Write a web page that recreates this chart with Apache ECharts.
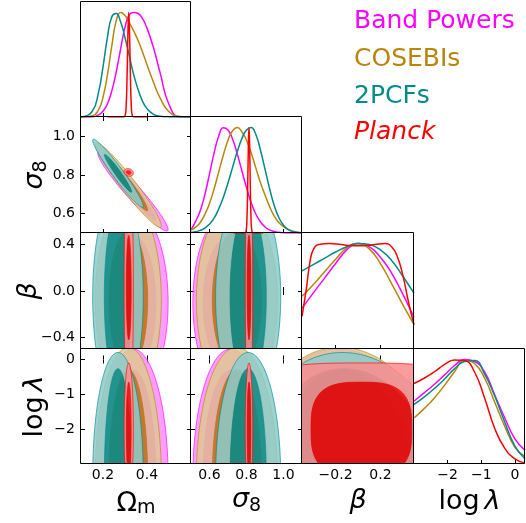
<!DOCTYPE html>
<html>
<head>
<meta charset="utf-8">
<script src="https://cdn.jsdelivr.net/npm/echarts@6/dist/echarts.min.js"></script>
<style>
  html, body { margin: 0; padding: 0; background: #fff; }
  #chart { width: 526px; height: 523px; }
</style>
</head>
<body>
<div id="chart"></div>
<script>
// datasets, in drawing order (Planck ends up on top)
const names = ['Band Powers', 'COSEBIs', '2PCFs', 'Planck'];
const colors = ['#ff00ff', '#b8860b', '#008b8b', '#ff0000'];

// parameters: Omega_m, sigma_8, beta, log lambda
const ranges = [[0.1, 0.6], [0.5, 1.1], [-0.5, 0.5], [-3, 0.3]];
const ticksX = [[0.2, 0.4], [0.6, 0.8, 1.0], [-0.2, 0.2], [-2, -1, 0]];
const ticksY = [null, [0.6, 0.8, 1.0], [-0.4, 0.0, 0.4], [-2, -1, 0]];
const decimals = [1, 1, 1, 0];

// 1D marginals, peak normalised to 1
const omX = [0.10, 0.15, 0.18, 0.20, 0.22, 0.24, 0.26, 0.28, 0.30, 0.32, 0.34, 0.36, 0.38, 0.40, 0.43, 0.46, 0.50, 0.55, 0.60];
const omBand = [0, 0, 0.02, 0.055, 0.125, 0.25, 0.43, 0.65, 0.86, 0.98, 1.0, 0.99, 0.94, 0.85, 0.66, 0.42, 0.12, 0, 0];
const omCosebis = [0, 0.01, 0.07, 0.19, 0.40, 0.68, 0.92, 1.0, 0.97, 0.90, 0.82, 0.73, 0.62, 0.50, 0.33, 0.18, 0.05, 0.005, 0];
const om2pcf = [0, 0.05, 0.24, 0.48, 0.76, 0.96, 0.99, 0.91, 0.76, 0.58, 0.40, 0.26, 0.15, 0.08, 0.025, 0.007, 0.001, 0, 0];
const omPlanckX = [0.22, 0.29, 0.300, 0.305, 0.310, 0.313, 0.317, 0.321, 0.324, 0.329, 0.334, 0.345, 0.40];
const omPlanck = [0, 0, 0.01, 0.09, 0.45, 0.77, 1.0, 0.77, 0.45, 0.09, 0.01, 0, 0];

const s8X = [0.5, 0.525, 0.55, 0.575, 0.6, 0.625, 0.65, 0.675, 0.7, 0.725, 0.75, 0.775, 0.8,
  0.825, 0.85, 0.875, 0.9, 0.925, 0.95, 0.975, 1.0, 1.025, 1.05, 1.075, 1.1];
const s8Band = [0.03, 0.11, 0.21, 0.365, 0.56, 0.76, 0.92, 0.998, 0.977, 0.89, 0.75, 0.59, 0.43,
  0.29, 0.18, 0.106, 0.057, 0.029, 0.014, 0.006, 0.002, 0, 0, 0, 0];
const s8Cosebis = [0.028, 0.056, 0.10, 0.177, 0.28, 0.42, 0.58, 0.74, 0.88, 0.97, 1.0, 0.96, 0.88,
  0.76, 0.62, 0.48, 0.36, 0.25, 0.16, 0.10, 0.06, 0.033, 0.018, 0.008, 0.003];
const s82pcf = [0.006, 0.012, 0.025, 0.047, 0.085, 0.14, 0.23, 0.34, 0.475, 0.625, 0.77, 0.895, 0.976,
  1.0, 0.937, 0.79, 0.606, 0.42, 0.26, 0.146, 0.074, 0.034, 0.014, 0.005, 0.002];
const s8PlanckX = [0.73, 0.79, 0.797, 0.802, 0.807, 0.8105, 0.8135, 0.8165, 0.82, 0.825, 0.83, 0.837, 0.89];
const s8Planck = [0, 0, 0.011, 0.11, 0.5, 0.86, 1.0, 0.86, 0.5, 0.11, 0.011, 0, 0];

const betaX = [-0.5, -0.4, -0.3, -0.2, -0.1, 0, 0.1, 0.2, 0.3, 0.4, 0.5];
const betaBand = [0.385, 0.53, 0.67, 0.81, 0.94, 1.0, 0.97, 0.87, 0.72, 0.52, 0.30];
const betaCosebis = [0.50, 0.61, 0.73, 0.85, 0.96, 1.0, 0.95, 0.81, 0.62, 0.42, 0.23];
const beta2pcf = [0.74, 0.80, 0.86, 0.92, 0.97, 1.0, 0.99, 0.94, 0.84, 0.69, 0.53];
const betaPlanckX = [-0.5, -0.46, -0.43, -0.40, -0.35, -0.25, -0.15, -0.05, 0.05, 0.15, 0.24, 0.30, 0.35, 0.40, 0.45, 0.5];
const betaPlanck = [0.31, 0.58, 0.82, 0.94, 0.99, 1.0, 0.99, 0.98, 0.98, 0.99, 1.0, 0.97, 0.88, 0.70, 0.45, 0.23];

const logX = [-3, -2.7, -2.4, -2.1, -1.8, -1.5, -1.2, -0.9, -0.6, -0.3, 0, 0.3];
const logBand = [0.60, 0.68, 0.76, 0.85, 0.94, 1.0, 0.98, 0.88, 0.66, 0.44, 0.24, 0.13];
const logCosebis = [0.44, 0.53, 0.63, 0.75, 0.88, 0.99, 0.96, 0.82, 0.59, 0.36, 0.16, 0.07];
const log2pcf = [0.57, 0.64, 0.72, 0.81, 0.91, 0.98, 0.99, 0.86, 0.65, 0.40, 0.17, 0.05];
const logPlanck = [0.77, 0.82, 0.88, 0.95, 0.995, 0.99, 0.88, 0.63, 0.34, 0.15, 0.05, 0.01];

const margX = [
  [omX, omX, omX, omPlanckX],
  [s8X, s8X, s8X, s8PlanckX],
  [betaX, betaX, betaX, betaPlanckX],
  [logX, logX, logX, logX]
];
const margY = [
  [omBand, omCosebis, om2pcf, omPlanck],
  [s8Band, s8Cosebis, s82pcf, s8Planck],
  [betaBand, betaCosebis, beta2pcf, betaPlanck],
  [logBand, logCosebis, log2pcf, logPlanck]
];

// 2D contours: centre and half-widths of the 95% (outer) and 68% (inner) regions
const centre = [
  [0.336, 0.715, -0.10, -3.4],
  [0.315, 0.748, -0.08, -3.4],
  [0.268, 0.809, -0.05, -3.4],
  [0.317, 0.8135, 0.03, -2.0]
];
const outerHalf = [
  [0.160, 0.205, 0.80, 3.70],
  [0.150, 0.219, 0.85, 3.75],
  [0.115, 0.176, 0.90, 3.60],
  [0.021, 0.020, 1.20, 1.90]
];
const innerHalf = [
  [0.105, 0.150, 0.58, 3.10],
  [0.088, 0.133, 0.60, 3.10],
  [0.062, 0.098, 0.75, 3.135],
  [0.011, 0.010, 0.45, 1.35]
];
// correlations in the Omega_m-sigma_8 and beta-log lambda planes
const rhoOmS8 = [-0.96, -0.96, -0.965, -0.2];
const rhoBetaLog = [-0.1, -0.1, -0.1, 0];
// squareness of the beta-log lambda contours (2 = ellipse)
const shapeBetaLog = [2, 2, 2, 3];

const colLeft = [81, 191, 302, 414], colW = [110, 111, 112, 111];
const rowTop = [2, 117, 233, 349], rowH = [115, 116, 116, 115];
const fillAlpha = 0.85;

function hexRgb(h) {
  return [1, 3, 5].map(i => parseInt(h.slice(i, i + 2), 16));
}
function rgba(h, a, lighten) {
  const c = hexRgb(h).map(v => Math.round(v + (255 - v) * (lighten || 0)));
  return 'rgba(' + c.join(',') + ',' + a + ')';
}

function fmt(v, p) {
  const s = Math.abs(v).toFixed(decimals[p]);
  return (v < 0 ? '\u2212' : '') + s;
}

function ring(api, cx, cy, ax, ay, rho, pw) {
  const pts = [];
  const s = Math.sqrt(1 - rho * rho);
  const n = 160;
  for (let i = 0; i < n; i++) {
    const t = i / n * 2 * Math.PI;
    const c = Math.cos(t), sn = Math.sin(t);
    const u = Math.sign(c) * Math.pow(Math.abs(c), 2 / pw);
    const v = Math.sign(sn) * Math.pow(Math.abs(sn), 2 / pw);
    pts.push(api.coord([cx + ax * u, cy + ay * (rho * u + s * v)]));
  }
  return pts;
}
function toPath(pts) {
  return 'M' + pts.map(q => q[0].toFixed(2) + ' ' + q[1].toFixed(2)).join('L') + 'Z';
}

function contourRender(d, px, py) {
  let rho = 0, pw = 2;
  if (px === 0 && py === 1) rho = rhoOmS8[d];
  if (px === 2 && py === 3) { rho = rhoBetaLog[d]; pw = shapeBetaLog[d]; }
  return function (params, api) {
    const cx = centre[d][px], cy = centre[d][py];
    const outer = ring(api, cx, cy, outerHalf[d][px], outerHalf[d][py], rho, pw);
    const inner = ring(api, cx, cy, innerHalf[d][px], innerHalf[d][py], rho, pw);
    return {
      type: 'group',
      children: [
        {
          type: 'path',
          shape: { pathData: toPath(outer) + toPath(inner.slice().reverse()) },
          style: { fill: rgba(colors[d], fillAlpha, 0.55), stroke: rgba(colors[d], 0.8), lineWidth: 0.8 }
        },
        {
          type: 'path',
          shape: { pathData: toPath(inner) },
          style: { fill: rgba(colors[d], fillAlpha), stroke: null }
        }
      ]
    };
  };
}

function makeAxis(g, p, ticks, position, showLabel) {
  return {
    gridIndex: g, type: 'value', position: position,
    min: ranges[p][0], max: ranges[p][1],
    axisLine: { show: false },
    splitLine: { show: false },
    axisTick: { show: true, inside: true, length: 4, customValues: ticks, lineStyle: { color: '#000', width: 1 } },
    axisLabel: {
      show: showLabel, customValues: ticks, formatter: v => fmt(v, p),
      color: '#000', fontFamily: 'DejaVu Sans', fontSize: 14,
      margin: position === 'bottom' ? 4 : 6
    }
  };
}

const grids = [], xAxes = [], yAxes = [], series = [], graphics = [];

for (let r = 0; r < 4; r++) {
  for (let c = 0; c <= r; c++) {
    const g = grids.length;
    grids.push({ left: colLeft[c], top: rowTop[r], width: colW[c], height: rowH[r] });
    const xi = xAxes.length;
    xAxes.push(makeAxis(g, c, ticksX[c], 'bottom', r === 3));
    const yi = yAxes.length;
    if (r === c) {
      yAxes.push({ gridIndex: g, type: 'value', min: 0, max: 1.1, show: false });
      for (let d = 0; d < 4; d++) {
        series.push({
          type: 'line', xAxisIndex: xi, yAxisIndex: yi,
          data: margX[r][d].map((x, k) => [x, margY[r][d][k]]),
          smooth: true, showSymbol: false, symbol: 'none',
          lineStyle: { color: colors[d], width: 1.5 },
          silent: true, z: 3
        });
      }
    } else {
      xAxes.push(makeAxis(g, c, ticksX[c], 'top', false));
      yAxes.push(makeAxis(g, r, ticksY[r], 'left', c === 0));
      yAxes.push(makeAxis(g, r, ticksY[r], 'right', false));
      for (let d = 0; d < 4; d++) {
        series.push({
          type: 'custom', coordinateSystem: 'cartesian2d',
          xAxisIndex: xi, yAxisIndex: yi, clip: true, silent: true,
          data: [[centre[d][c], centre[d][r]]],
          renderItem: contourRender(d, c, r),
          z: 2
        });
      }
    }
    graphics.push({
      type: 'rect', z: 100, silent: true,
      shape: { x: colLeft[c] - 0.5, y: rowTop[r] - 0.5, width: colW[c], height: rowH[r] },
      style: { fill: null, stroke: '#000', lineWidth: 1 }
    });
  }
}

// axis titles (mathtext-like)
const mctx = document.createElement('canvas').getContext('2d');
function fontCss(t) { return (t.it ? 'italic ' : '') + t.size + 'px "DejaVu Sans"'; }
function title(tokens, x, y, rotation) {
  const widths = tokens.map(t => { mctx.font = fontCss(t); return mctx.measureText(t.text).width + (t.dx || 0); });
  let cur = -widths.reduce((a, b) => a + b, 0) / 2;
  const children = tokens.map((t, k) => {
    const el = {
      type: 'text', x: cur + (t.dx || 0), y: (t.dy || 0) - 0.35 * t.size,
      style: {
        text: t.text, fontSize: t.size, fontStyle: t.it ? 'italic' : 'normal',
        fontFamily: 'DejaVu Sans', fill: '#000',
        align: 'left', verticalAlign: 'middle', textAlign: 'left', textVerticalAlign: 'middle'
      }
    };
    cur += widths[k];
    return el;
  });
  return { type: 'group', x: x, y: y, rotation: rotation, z: 100, silent: true, children: children };
}
const titles = [
  [{ text: '\u03a9', size: 27 }, { text: 'm', size: 19, dy: 2 }],
  [{ text: '\u03c3', size: 27, it: true }, { text: '8', size: 19, dy: 4 }],
  [{ text: '\u03b2', size: 27, it: true }],
  [{ text: 'log', size: 27 }, { text: '\u03bb', size: 27, it: true, dx: 5 }]
];
const xTitleBase = [513, 509, 510, 511];
for (let c = 0; c < 4; c++) {
  graphics.push(title(titles[c], colLeft[c] + colW[c] / 2, xTitleBase[c], 0));
}
const yTitleX = [44, 38, 44];
for (let r = 1; r < 4; r++) {
  graphics.push(title(titles[r], yTitleX[r - 1], rowTop[r] + rowH[r] / 2, Math.PI / 2));
}

// legend as coloured text
const legendBase = [30.7, 68, 105, 141.7];
names.forEach((n, d) => {
  graphics.push({
    type: 'text', z: 100, silent: true, x: 354, y: legendBase[d] - 0.35 * 25,
    style: {
      text: n, fontSize: 25, fontStyle: d === 3 ? 'italic' : 'normal', fontFamily: 'DejaVu Sans',
      fill: colors[d], align: 'left', verticalAlign: 'middle', textAlign: 'left', textVerticalAlign: 'middle'
    }
  });
});

const chart = echarts.init(document.getElementById('chart'));
chart.setOption({
  animation: false,
  backgroundColor: '#fff',
  grid: grids,
  xAxis: xAxes,
  yAxis: yAxes,
  series: series,
  graphic: { elements: graphics }
});
</script>
</body>
</html>
